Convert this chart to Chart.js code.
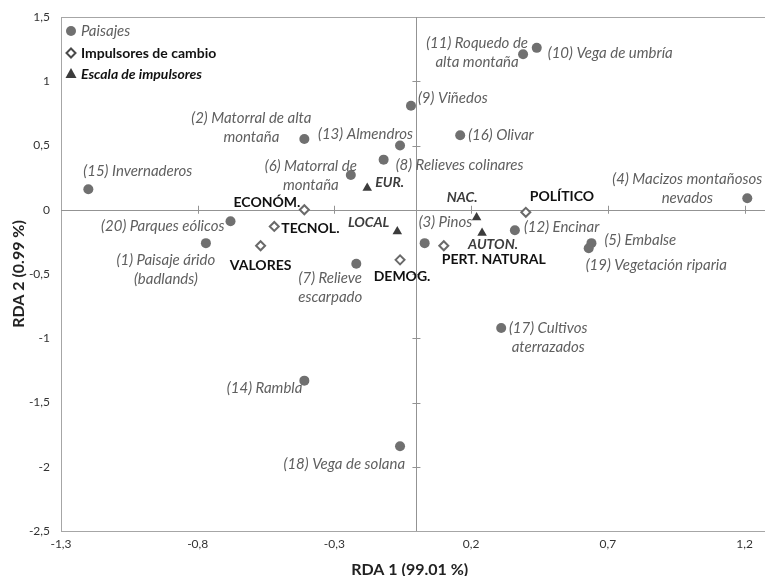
<!DOCTYPE html>
<html lang="es">
<head>
<meta charset="UTF-8" />
<title>RDA: paisajes e impulsores de cambio</title>
<style>
  html, body { margin: 0; padding: 0; background: #fff; overflow: hidden; }
</style>
</head>
<body>
<canvas id="rda" width="765" height="576"></canvas>

<script src="https://cdn.jsdelivr.net/npm/chart.js"></script>
<script>
// Paisajes (1..20)
const paisajesNames = [
  "(1) Paisaje árido\n(badlands)", "(2) Matorral de alta\nmontaña", "(3) Pinos",
  "(4) Macizos montañosos\nnevados", "(5) Embalse", "(6) Matorral de\nmontaña",
  "(7) Relieve\nescarpado", "(8) Relieves colinares", "(9) Viñedos",
  "(10) Vega de umbría", "(11) Roquedo de\nalta montaña", "(12) Encinar",
  "(13) Almendros", "(14) Rambla", "(15) Invernaderos", "(16) Olivar",
  "(17) Cultivos\naterrazados", "(18) Vega de solana", "(19) Vegetación riparia",
  "(20) Parques eólicos"
];
const paisajesX = [-0.77, -0.41, 0.03, 1.21, 0.64, -0.24, -0.22, -0.12, -0.02, 0.44,
                   0.39, 0.36, -0.06, -0.41, -1.20, 0.16, 0.31, -0.06, 0.63, -0.68];
const paisajesY = [-0.26, 0.55, -0.26, 0.09, -0.26, 0.27, -0.42, 0.39, 0.81, 1.26,
                   1.21, -0.16, 0.50, -1.33, 0.16, 0.58, -0.92, -1.84, -0.30, -0.09];

// Impulsores de cambio
const impulsoresNames = ["ECONÓM.", "TECNOL.", "VALORES", "DEMOG.", "PERT. NATURAL", "POLÍTICO"];
const impulsoresX = [-0.41, -0.52, -0.57, -0.06, 0.10, 0.40];
const impulsoresY = [0.00, -0.13, -0.28, -0.39, -0.28, -0.02];

// Escala de impulsores
const escalaNames = ["EUR.", "LOCAL", "NAC.", "AUTON."];
const escalaX = [-0.18, -0.07, 0.22, 0.24];
const escalaY = [0.17, -0.17, -0.06, -0.18];

// Axis ticks
const xTickValues = [-1.3, -0.8, -0.3, 0.2, 0.7, 1.2];
const yTickValues = [-2.5, -2, -1.5, -1, -0.5, 0, 0.5, 1, 1.5];

// label placement (pixel offsets from the point, kept apart from the data)
const paisajesLabelPos = [
  [-40, 17, "center"], [-53, -21, "center"], [-6, -21, "left"], [-60, -19, "center"],
  [13, -3, "left"], [-40, -9, "center"], [-26, 14, "center"], [12, 6, "left"],
  [7, -8, "left"], [11, 5, "left"], [-46, -11, "center"], [9, -3, "left"],
  [13, -11, "right"], [-2, 8, "right"], [-5, -18, "left"], [8, 0, "left"],
  [47, 0, "center"], [5, 18, "right"], [-3, 17, "left"], [-6, 5, "right"]
];
const impulsoresLabelPos = [
  [-4, -7, "right"], [7, 2, "left"], [0, 20, "center"], [2, 17, "center"],
  [-2, 14, "left"], [4, -16, "left"]
];
const escalaLabelPos = [[8, -5, "left"], [-8, -9, "right"], [1, -20, "right"], [11, 12, "center"]];

const FONT = "Lato, 'Open Sans', sans-serif";
const labelStyles = [
  { pos: paisajesLabelPos, font: "italic 15px " + FONT, color: "#5f5f5f" },
  { pos: impulsoresLabelPos, font: "bold 14px " + FONT, color: "#111" },
  { pos: escalaLabelPos, font: "italic bold 14px " + FONT, color: "#3c3c3c" }
];

const toPoints = (xs, ys) => xs.map((x, i) => ({ x: x, y: ys[i] }));
const fmt = v => String(v).replace(".", ",");

// plot frame (cropped at the right edge) + axes through zero with small cross ticks
const axesPlugin = {
  id: "zeroAxes",
  beforeDatasetsDraw(chart) {
    const { ctx, chartArea: a, scales } = chart;
    const edge = chart.width;
    const x0 = scales.x.getPixelForValue(0);
    const y0 = scales.y.getPixelForValue(0);
    ctx.save();
    ctx.lineWidth = 1;
    ctx.strokeStyle = "#a6a6a6";
    ctx.beginPath();
    ctx.moveTo(a.left, a.top + 0.5);
    ctx.lineTo(edge, a.top + 0.5);
    ctx.moveTo(a.left + 0.5, a.top);
    ctx.lineTo(a.left + 0.5, a.bottom);
    ctx.moveTo(a.left, a.bottom + 0.5);
    ctx.lineTo(edge, a.bottom + 0.5);
    ctx.stroke();

    ctx.strokeStyle = "#939393";
    ctx.beginPath();
    ctx.moveTo(Math.round(x0) + 0.5, a.top);
    ctx.lineTo(Math.round(x0) + 0.5, a.bottom);
    ctx.moveTo(a.left, Math.round(y0) + 0.5);
    ctx.lineTo(edge, Math.round(y0) + 0.5);
    xTickValues.forEach(v => {
      const px = Math.round(scales.x.getPixelForValue(v)) + 0.5;
      if (px <= a.left + 1) return;
      ctx.moveTo(px, y0 - 4);
      ctx.lineTo(px, y0 + 4);
    });
    yTickValues.forEach(v => {
      const py = Math.round(scales.y.getPixelForValue(v)) + 0.5;
      if (py <= a.top + 1 || py >= a.bottom - 1) return;
      ctx.moveTo(x0 - 4, py);
      ctx.lineTo(x0 + 4, py);
    });
    ctx.stroke();
    ctx.restore();
  }
};

// point labels
const labelsPlugin = {
  id: "pointLabels",
  afterDatasetsDraw(chart) {
    const ctx = chart.ctx;
    ctx.save();
    ctx.textBaseline = "middle";
    chart.data.datasets.forEach((ds, di) => {
      const style = labelStyles[di];
      const meta = chart.getDatasetMeta(di);
      ctx.font = style.font;
      ctx.fillStyle = style.color;
      meta.data.forEach((el, i) => {
        const [dx, dy, align] = style.pos[i];
        ctx.textAlign = align;
        ds.names[i].split("\n").forEach((line, k) => {
          ctx.fillText(line, el.x + dx, el.y + dy + k * 19);
        });
      });
    });
    ctx.restore();
  }
};

// legend inside the plot, top left
const legendPlugin = {
  id: "insideLegend",
  afterDraw(chart) {
    const { ctx, chartArea: a } = chart;
    const mx = a.left + 10, tx = a.left + 20;
    const rows = [a.top + 14, a.top + 36, a.top + 57];
    ctx.save();
    ctx.textBaseline = "middle";
    ctx.textAlign = "left";

    ctx.fillStyle = "#707070";
    ctx.beginPath();
    ctx.arc(mx, rows[0], 5, 0, Math.PI * 2);
    ctx.fill();
    ctx.font = "italic 15px " + FONT;
    ctx.fillStyle = "#5f5f5f";
    ctx.fillText("Paisajes", tx, rows[0]);

    ctx.strokeStyle = "#4a4a4a";
    ctx.fillStyle = "#fff";
    ctx.lineWidth = 2;
    ctx.beginPath();
    ctx.moveTo(mx, rows[1] - 4.5);
    ctx.lineTo(mx + 4.5, rows[1]);
    ctx.lineTo(mx, rows[1] + 4.5);
    ctx.lineTo(mx - 4.5, rows[1]);
    ctx.closePath();
    ctx.fill();
    ctx.stroke();
    ctx.font = "bold 14px " + FONT;
    ctx.fillStyle = "#111";
    ctx.fillText("Impulsores de cambio", tx, rows[1]);

    ctx.fillStyle = "#3c3c3c";
    ctx.beginPath();
    ctx.moveTo(mx, rows[2] - 6);
    ctx.lineTo(mx + 5.5, rows[2] + 4);
    ctx.lineTo(mx - 5.5, rows[2] + 4);
    ctx.closePath();
    ctx.fill();
    ctx.font = "italic bold 14px " + FONT;
    ctx.fillStyle = "#111";
    ctx.fillText("Escala de impulsores", tx, rows[2]);
    ctx.restore();
  }
};

const chart = new Chart(document.getElementById("rda"), {
  type: "scatter",
  data: {
    datasets: [
      {
        label: "Paisajes",
        names: paisajesNames,
        data: toPoints(paisajesX, paisajesY),
        pointStyle: "circle",
        pointRadius: 5,
        backgroundColor: "#707070",
        borderColor: "#707070",
        borderWidth: 0
      },
      {
        label: "Impulsores de cambio",
        names: impulsoresNames,
        data: toPoints(impulsoresX, impulsoresY),
        pointStyle: "rectRot",
        pointRadius: 4.5,
        backgroundColor: "#ffffff",
        borderColor: "#6a6a6a",
        borderWidth: 2
      },
      {
        label: "Escala de impulsores",
        names: escalaNames,
        data: toPoints(escalaX, escalaY),
        pointStyle: "triangle",
        pointRadius: 5.5,
        backgroundColor: "#3c3c3c",
        borderColor: "#3c3c3c",
        borderWidth: 0
      }
    ]
  },
  options: {
    responsive: false,
    animation: false,
    layout: { padding: { top: 17, right: 0, bottom: 0, left: 0 } },
    plugins: {
      legend: { display: false },
      tooltip: { enabled: false }
    },
    scales: {
      x: {
        type: "linear",
        min: -1.3,
        max: 1.251, // original plot is cropped on the right
        afterBuildTicks: s => { s.ticks = xTickValues.map(v => ({ value: v })); },
        afterFit: s => { s.height = 45; s.paddingLeft = 0; s.paddingRight = 0; },
        grid: { display: false, drawTicks: false },
        border: { display: false },
        ticks: {
          padding: 6,
          maxRotation: 0,
          autoSkip: false,
          color: "#333",
          font: { family: FONT, size: 12 },
          callback: v => fmt(v)
        },
        title: {
          display: true,
          text: "RDA 1 (99.01 %)",
          color: "#222",
          font: { family: FONT, size: 16, weight: "bold", lineHeight: 0.8 },
          padding: { top: 0, bottom: 0 }
        }
      },
      y: {
        type: "linear",
        min: -2.5,
        max: 1.5,
        afterBuildTicks: s => { s.ticks = yTickValues.map(v => ({ value: v })); },
        afterFit: s => { s.width = 61; s.paddingTop = 0; s.paddingBottom = 0; },
        grid: { display: false, drawTicks: false },
        border: { display: false },
        ticks: {
          padding: 11,
          autoSkip: false,
          color: "#333",
          font: { family: FONT, size: 12 },
          callback: v => fmt(v)
        },
        title: {
          display: true,
          text: "RDA 2 (0.99 %)",
          color: "#222",
          font: { family: FONT, size: 16, weight: "bold" },
          padding: { top: 9, bottom: 0 }
        }
      }
    }
  },
  plugins: [axesPlugin, labelsPlugin, legendPlugin]
});
</script>
</body>
</html>
